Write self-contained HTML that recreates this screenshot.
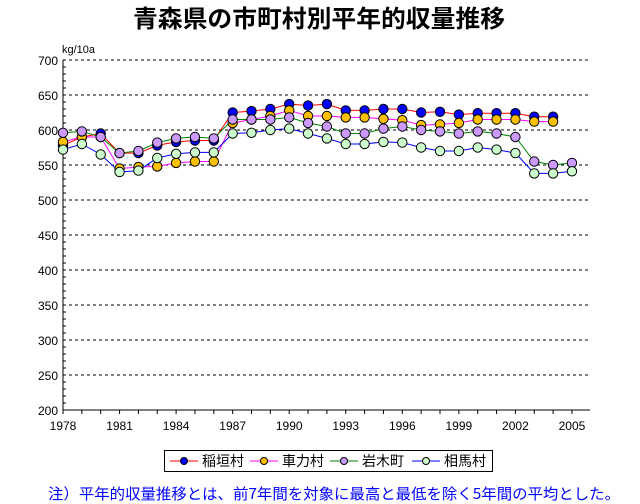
<!DOCTYPE html><html><head><meta charset="utf-8"><style>body{margin:0;background:#fff}svg{display:block}</style></head><body>
<svg id="s" width="640" height="504" xmlns="http://www.w3.org/2000/svg" font-family="Liberation Sans, Noto Sans CJK JP, sans-serif">
<text x="133" y="27" font-size="24" font-weight="bold" textLength="372" lengthAdjust="spacingAndGlyphs" font-family="Noto Sans CJK JP, sans-serif">青森県の市町村別平年的収量推移</text>
<text x="62" y="53" font-size="11">kg/10a</text>
<g id="g"></g>
<rect x="164.5" y="450.5" width="328" height="21" fill="none" stroke="#000"/>
<g font-size="14" font-family="Noto Sans CJK JP, sans-serif">
<line x1="170" y1="461" x2="198" y2="461" stroke="red"/><circle cx="184" cy="461" r="3.5" fill="#0000ff" stroke="#000"/><text x="202" y="466">稲垣村</text>
<line x1="250" y1="461" x2="278" y2="461" stroke="#ff00ff"/><circle cx="264" cy="461" r="3.5" fill="#ffc000" stroke="#000"/><text x="282" y="466">車力村</text>
<line x1="330" y1="461" x2="358" y2="461" stroke="green"/><circle cx="344" cy="461" r="3.5" fill="#cc99ff" stroke="#000"/><text x="362" y="466">岩木町</text>
<line x1="412" y1="461" x2="440" y2="461" stroke="blue"/><circle cx="426" cy="461" r="3.5" fill="#ccffcc" stroke="#000"/><text x="444" y="466">相馬村</text>
</g>
<text x="48" y="499" font-size="15" fill="#0000ff" textLength="572" lengthAdjust="spacingAndGlyphs" font-family="Noto Sans CJK JP, sans-serif">注）平年的収量推移とは、前7年間を対象に最高と最低を除く5年間の平均とした。</text>
</svg>
<script>
var g=document.getElementById('g'),h='';
function X(i){return 63+i*18.85}function Y(v){return 410-(v-200)*0.7}
for(var v=200;v<=700;v+=50){var y=Y(v);if(v>200)h+='<line x1="63" y1="'+y+'" x2="590" y2="'+y+'" stroke="#000" stroke-dasharray="3,3"/>';
h+='<text x="58" y="'+(y+5)+'" font-size="12" text-anchor="end">'+v+'</text>';}
for(var v=200;v<700;v+=10){h+='<line x1="63" y1="'+Y(v)+'" x2="66" y2="'+Y(v)+'" stroke="#000"/>';}
h+='<line x1="63" y1="60" x2="63" y2="410" stroke="#000"/><line x1="63" y1="410" x2="590" y2="410" stroke="#000"/>';
for(var i=0;i<=27;i++){h+='<line x1="'+X(i)+'" y1="410" x2="'+X(i)+'" y2="414" stroke="#000"/>';if(i%3==0)h+='<text x="'+X(i)+'" y="430" font-size="12" text-anchor="middle">'+(1978+i)+'</text>';}
var S=[
['red','#0000ff',[578,590,595,567,567,578,583,585,585,625,627,630,637,635,637,628,628,630,630,625,626,622,624,624,624,619,619]],
['#ff00ff','#ffc000',[583,590,590,545,547,548,553,555,555,610,615,620,628,620,620,618,618,616,614,607,608,610,615,615,615,612,612]],
['green','#cc99ff',[596,598,590,567,570,582,588,590,588,615,615,615,618,610,605,595,595,602,605,600,598,595,598,595,590,555,550,553]],
['blue','#ccffcc',[572,580,565,540,542,560,566,568,568,595,596,600,602,595,588,580,580,583,582,575,570,570,575,572,567,538,538,541]]];
S.forEach(function(s){var p=s[2].map(function(v,i){return X(i)+','+Y(v)}).join(' ');h+='<polyline points="'+p+'" fill="none" stroke="'+s[0]+'"/>';});
S.forEach(function(s){s[2].forEach(function(v,i){h+='<circle cx="'+X(i)+'" cy="'+Y(v)+'" r="4.7" fill="'+s[1]+'" stroke="#000"/>';});});
g.innerHTML=h;
</script></body></html>
